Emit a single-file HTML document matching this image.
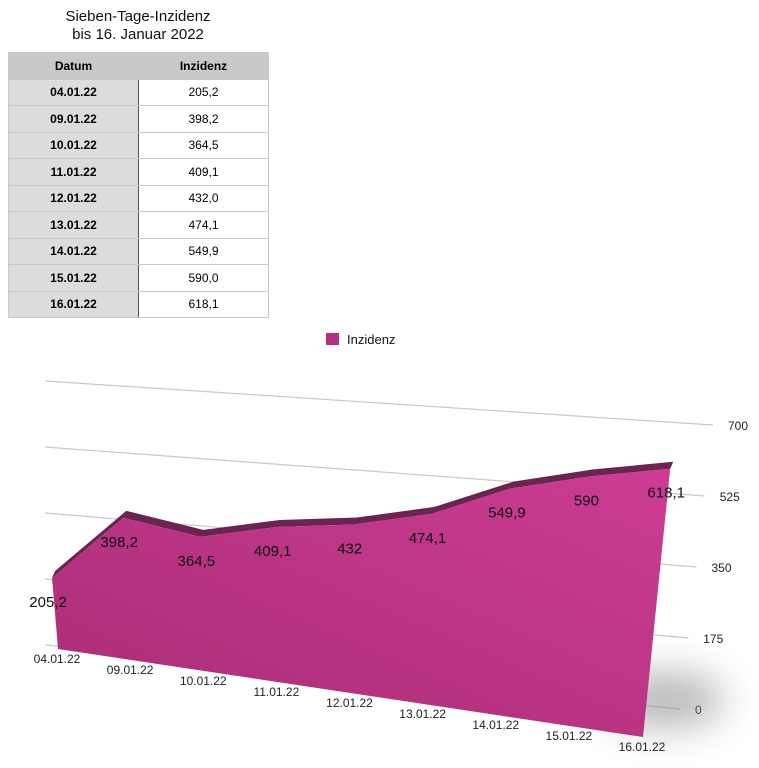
<!DOCTYPE html>
<html><head><meta charset="utf-8"><style>
body{margin:0;width:759px;height:768px;background:#fff;font-family:"Liberation Sans",sans-serif;position:relative;overflow:hidden}
.title{position:absolute;left:8px;width:260px;text-align:center;font-size:15px;color:#111}
table{position:absolute;left:8px;top:52px;border-collapse:collapse;font-size:12px}
td,th{height:25.5px;border:1px solid #c8c8c8;text-align:center;padding:0}
th{background:#c9c9c9;font-weight:bold}
td.d{background:#dcdcdc;font-weight:bold;border-right:1px solid #555}
</style></head><body>
<div class="title" style="top:8px">Sieben-Tage-Inzidenz</div>
<div class="title" style="top:26px">bis 16. Januar 2022</div>
<table>
<tr><th style="width:129px">Datum</th><th style="width:129px">Inzidenz</th></tr>
<tr><td class="d">04.01.22</td><td>205,2</td></tr>
<tr><td class="d">09.01.22</td><td>398,2</td></tr>
<tr><td class="d">10.01.22</td><td>364,5</td></tr>
<tr><td class="d">11.01.22</td><td>409,1</td></tr>
<tr><td class="d">12.01.22</td><td>432,0</td></tr>
<tr><td class="d">13.01.22</td><td>474,1</td></tr>
<tr><td class="d">14.01.22</td><td>549,9</td></tr>
<tr><td class="d">15.01.22</td><td>590,0</td></tr>
<tr><td class="d">16.01.22</td><td>618,1</td></tr>
</table>
<svg id="chart" width="759" height="768" style="position:absolute;left:0;top:0">
<defs>
<linearGradient id="g" x1="0" y1="1" x2="1" y2="0"><stop offset="0" stop-color="#a82d76"/><stop offset="1" stop-color="#cc3c93"/></linearGradient>
<filter id="bl" x="-100%" y="-100%" width="300%" height="300%"><feGaussianBlur stdDeviation="18"/></filter>
</defs>
<rect x="326" y="333" width="13" height="12" fill="#b5307f"/>
<text x="347" y="344" font-size="13" fill="#111">Inzidenz</text>
<g id="grid"></g><g id="marks"></g><g id="labels"></g>
</svg>
<script>
const categories=["04.01.22","09.01.22","10.01.22","11.01.22","12.01.22","13.01.22","14.01.22","15.01.22","16.01.22"];
const values=[205.2,398.2,364.5,409.1,432.0,474.1,549.9,590.0,618.1];
const valueLabels=["205,2","398,2","364,5","409,1","432","474,1","549,9","590","618,1"];
const ticks=[0,175,350,525,700];
const NS="http://www.w3.org/2000/svg";
function mk(t,a,p){const e=document.createElementNS(NS,t);for(const k in a)e.setAttribute(k,a[k]);p.appendChild(e);return e;}
const n=categories.length;
function base(i){const t=i/(n-1);return [58+585*t,649+88*t];}
function up(i){const t=i/(n-1);return [-0.029+0.073*t,-0.346-0.088*t];}
function pt(i,v){const b=base(i),u=up(i);return [b[0]+u[0]*v,b[1]+u[1]*v];}
const gridG=document.getElementById('grid'),marksG=document.getElementById('marks'),labelsG=document.getElementById('labels');
ticks.forEach(v=>{const f=v/700;
 const ly=645-264*f, ry=709-284*f, rx=680+33*f, lx=45;
 const l=mk('line',{x1:lx,y1:ly,x2:rx,y2:ry,stroke:'#c8c8c8','stroke-width':1.2},gridG);
 
 
 const t=mk('text',{x:rx+15,y:ry+5,'font-size':12,fill:'#222'},gridG);t.textContent=v;
 
 
});
const sh=mk('ellipse',{cx:665,cy:700,rx:60,ry:30,fill:'#888',opacity:0.55,filter:'url(#bl)'},marksG);


let topPts=[],backPts=[];
for(let i=0;i<n;i++){const p=pt(i,values[i]);topPts.push(p);backPts.push([p[0]+3,p[1]-7]);}
const strip=mk('polygon',{points:topPts.concat(backPts.slice().reverse()).map(p=>p.join(',')).join(' '),fill:'#6b2350'},marksG);


let poly=topPts.slice();poly.push(base(n-1));poly.push(base(0));
const face=mk('polygon',{points:poly.map(p=>p.join(',')).join(' '),fill:'url(#g)'},marksG);


for(let i=0;i<n;i++){
 const p=topPts[i];
 const t=mk('text',{x:p[0]-4,y:p[1]+29,'font-size':15,fill:'#111','text-anchor':'middle'},labelsG);
 t.textContent=valueLabels[i];
 
 
 const b=base(i);
 const c=mk('text',{x:b[0]-1,y:b[1]+14,'font-size':12,fill:'#222','text-anchor':'middle'},labelsG);
 c.textContent=categories[i];
 
 
}
</script>
</body></html>
